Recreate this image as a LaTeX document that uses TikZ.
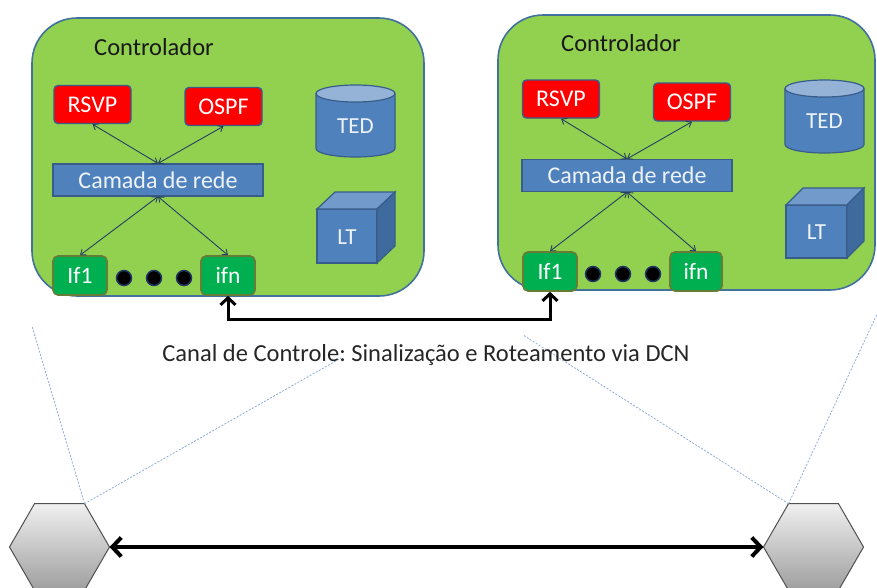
\documentclass[tikz,border=0pt]{standalone}
\usepackage{fontspec}
\setmainfont{Carlito}
\frenchspacing
\usetikzlibrary{arrows.meta,shapes.geometric,calc}
\definecolor{boxgreen}{HTML}{92D050}
\definecolor{boxline}{HTML}{41719C}
\definecolor{protred}{HTML}{FF0000}
\definecolor{protline}{HTML}{385D8A}
\definecolor{camfill}{HTML}{4F81BD}
\definecolor{camline}{HTML}{385D8A}
\definecolor{camtext}{HTML}{EEF3FA}
\definecolor{iffill}{HTML}{00B050}
\definecolor{ifline}{HTML}{677D35}
\definecolor{dotline}{HTML}{1F3864}
\definecolor{arrline}{HTML}{254061}
\definecolor{cyltop}{HTML}{95B3D7}
\definecolor{cubetop}{HTML}{729ACA}
\definecolor{cubeside}{HTML}{3E6A9E}
\definecolor{projline}{HTML}{8EAADB}
\definecolor{hexline}{HTML}{505050}
\newcommand\tedcyl[5]{%
  \pgfmathsetmacro\myCx{(#1+#3)/2}%
  \pgfmathsetmacro\myRx{(#3-#1)/2}%
  \pgfmathsetmacro\myTa{#2+8.5}%
  \pgfmathsetmacro\myBo{#4-8.5}%
  \pgfmathsetmacro\myMid{(#2+#4)/2+5}%
  \fill[camfill] (#1,\myTa) -- (#1,\myBo) arc[start angle=180,end angle=0,x radius=\myRx,y radius=8.5] -- (#3,\myTa) -- cycle;
  \draw[camline,line width=1.2pt] (#1,\myTa) -- (#1,\myBo) arc[start angle=180,end angle=0,x radius=\myRx,y radius=8.5] -- (#3,\myTa);
  \draw[camline,line width=1.2pt,fill=cyltop] (\myCx,\myTa) ellipse[x radius=\myRx,y radius=8.5];
  \node[celltext] (#5) at (\myCx,\myMid) {TED};
}
\newcommand\ltcube[7]{%
  \pgfmathsetmacro\myXa{#3+#5}%
  \pgfmathsetmacro\myXb{#1+#5}%
  \pgfmathsetmacro\myYa{#2-#6}%
  \pgfmathsetmacro\myYb{#4-#6}%
  \draw[camline,line width=1.2pt,fill=camfill] (#1,#2) rectangle (#3,#4);
  \draw[camline,line width=1.2pt,fill=cubetop] (#1,#2) -- (\myXb,\myYa) -- (\myXa,\myYa) -- (#3,#2) -- cycle;
  \draw[camline,line width=1.2pt,fill=cubeside] (#3,#2) -- (\myXa,\myYa) -- (\myXa,\myYb) -- (#3,#4) -- cycle;
  \node[celltext] (#7) at ({(#1+#3)/2},{(#2+#4)/2+1}) {LT};
}
\begin{document}
\begin{tikzpicture}[x=1pt,y=-1pt,
  ctrl/.style={draw=boxline,line width=1.6pt,fill=boxgreen,rounded corners=45pt,inner sep=0pt},
  ctrltitle/.style={anchor=west,inner sep=0pt,font=\fontsize{24.5}{26}\selectfont,text=black!90},
  prot/.style={draw=protline,line width=1.4pt,fill=protred,rounded corners=4pt,inner sep=0pt,
    minimum width=77pt,minimum height=38pt,text=white,font=\fontsize{24}{26}\selectfont},
  camada/.style={draw=camline,line width=1.2pt,fill=camfill,inner sep=0pt,
    minimum width=210pt,minimum height=32pt,text=camtext,font=\fontsize{24}{26}\selectfont},
  iface/.style={draw=ifline,line width=1.6pt,fill=iffill,rounded corners=5pt,inner sep=0pt,
    minimum width=54pt,minimum height=39pt,text=white,font=\fontsize{23.5}{25}\selectfont},
  blackdot/.style={circle,draw=dotline,line width=1.5pt,fill=black,minimum size=15pt,inner sep=0pt},
  celltext/.style={inner sep=0pt,text=camtext,font=\fontsize{23}{25}\selectfont},
  thin/.style={draw=arrline,line width=0.9pt,{Straight Barb[length=4.5pt,width=7pt]}-{Straight Barb[length=4.5pt,width=7pt]}},
  chan/.style={draw=black,line width=3pt,{Straight Barb[length=7pt,width=15pt]}-{Straight Barb[length=7pt,width=15pt]}},
  link/.style={draw=black,line width=4pt,{Straight Barb[length=9pt,width=19pt]}-{Straight Barb[length=9pt,width=19pt]}},
  proj/.style={draw=projline,line width=0.8pt,dash pattern=on 2pt off 1.5pt},
  hex/.style={regular polygon,regular polygon sides=6,minimum size=100pt,inner sep=0pt,outer sep=0pt,
    draw=hexline,line width=1pt,top color=black!6,bottom color=black!38},
  label/.style={inner sep=0pt,font=\fontsize{24.5}{26}\selectfont,text=black!85}
]
\useasboundingbox (0,0) rectangle (877,587);

% projection lines
\coordinate (pL1) at (32,326);
\coordinate (pL2) at (341,358);
\coordinate (pR1) at (523,335);
\coordinate (pR2) at (878,312);
\node[hex] (hexL) at (59.5,547) {};
\node[hex] (hexR) at (813.5,547) {};
\draw[proj] (hexL.60) -- (pL1);
\draw[proj] (hexL.60) -- (pL2);
\draw[proj] (hexR.120) -- (pR1);
\draw[proj] (hexR.120) -- (pR2);

% left controller
\node[ctrl,minimum width=392pt,minimum height=278pt] (boxL) at (228,157) {};
\node[ctrltitle] (titL) at (94,47) {Controlador};
\node[prot] (rsvpL) at (92.5,104.5) {RSVP};
\node[prot] (ospfL) at (223.5,106.5) {OSPF};
\node[camada] (camL) at (158,180) {Camada de rede};
\node[iface] (if1L) at (80,275.5) {If1};
\node[iface] (ifnL) at (228,275.5) {ifn};
\node[blackdot] (d1L) at (124,278) {};
\node[blackdot] (d2L) at (154,278) {};
\node[blackdot] (d3L) at (184,278) {};
\draw[thin] (rsvpL.south) -- (camL.north);
\draw[thin] (ospfL.south) -- (camL.north);
\draw[thin] (if1L.north) -- (camL.south);
\draw[thin] (ifnL.north) -- (camL.south);
\tedcyl{316}{85}{395}{157}{tedL}
\ltcube{317}{209}{377}{263}{18}{17}{ltL}

% right controller
\node[ctrl,minimum width=377pt,minimum height=275pt] (boxR) at (686.5,152.5) {};
\node[ctrltitle] (titR) at (561,43) {Controlador};
\node[prot] (rsvpR) at (561,99) {RSVP};
\node[prot] (ospfR) at (692,102) {OSPF};
\node[camada] (camR) at (627,175.5) {Camada de rede};
\node[iface] (if1R) at (550,271.5) {If1};
\node[iface,minimum width=52pt] (ifnR) at (696,271.5) {ifn};
\node[blackdot] (d1R) at (593,274) {};
\node[blackdot] (d2R) at (623,274) {};
\node[blackdot] (d3R) at (653,274) {};
\draw[thin] (rsvpR.south) -- (camR.north);
\draw[thin] (ospfR.south) -- (camR.north);
\draw[thin] (if1R.north) -- (camR.south);
\draw[thin] (ifnR.north) -- (camR.south);
\tedcyl{785}{80}{864}{153}{tedR}
\ltcube{786}{205}{847}{258}{17}{17}{ltR}

% control channel
\coordinate (chanmid) at (390,319);
\draw[chan] (ifnL.south) |- (chanmid) -| (if1R.south);
\node[label] (chanlab) at (426,355) {Canal de Controle: Sinalização e Roteamento via DCN};

% data link
\draw[link] (hexL.east) -- (hexR.west);
\end{tikzpicture}
\end{document}
